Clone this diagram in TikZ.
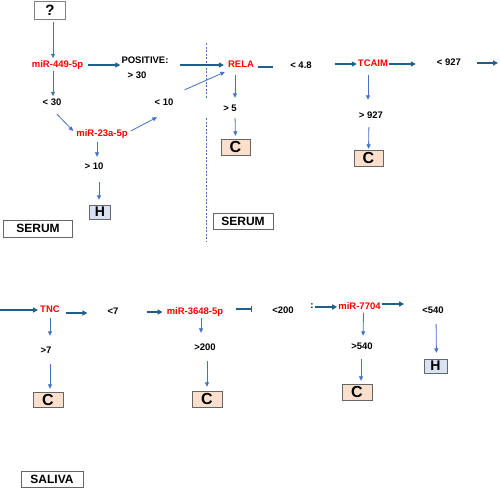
\documentclass[tikz,border=0pt]{standalone}
\usepackage{fontspec}
\setmainfont{Liberation Sans}
\usetikzlibrary{arrows.meta,positioning}
\definecolor{arrblue}{HTML}{4472C4}
\definecolor{arrteal}{HTML}{1F5F8B}
\definecolor{boxpeach}{HTML}{FAE0CC}
\definecolor{boxblue}{HTML}{D9E2F3}
\tikzset{
  lbl/.style={font=\bfseries\fontsize{9.5}{11}\selectfont, inner sep=1pt, text height=7pt, text depth=2pt},
  mir/.style={lbl, text=red},
  res/.style={draw=gray!80!black, font=\bfseries\fontsize{16}{18}\selectfont, inner sep=0pt, minimum width=29pt, minimum height=16pt},
  tissue/.style={draw=gray!80!black, font=\bfseries\fontsize{12}{14}\selectfont, inner sep=0pt, minimum height=16pt},
  bl/.style={draw=arrblue, line width=0.8pt, -{Triangle[length=4.5pt,width=4pt]}},
  tl/.style={draw=arrteal, line width=1.4pt, -{Triangle[length=5pt,width=5pt]}},
  cut/.style={draw=arrblue, line width=0.6pt, dash pattern=on 2pt off 1.5pt}
}
\begin{document}
\begin{tikzpicture}[x=1pt, y=-1pt]
    \useasboundingbox (0,0) rectangle (500,488);
    \node[res, font=\bfseries\fontsize{15}{17}\selectfont, minimum width=31pt, minimum height=18pt, draw=gray] (Q) at (50,10) {?};
    \node[mir] (M449) at (57.5,65) {miR-449-5p};
    \node[lbl] (POS) at (145,61) {POSITIVE:};
    \node[lbl] (G30) at (137,76) {> 30};
    \node[lbl] (L30) at (52,103) {< 30};
    \node[mir] (M23A) at (102,134) {miR-23a-5p};
    \node[lbl] (L10) at (164,103) {< 10};
    \node[lbl] (G10) at (94,167) {> 10};
    \node[res, fill=boxblue, minimum width=21pt, minimum height=14pt, font=\bfseries\fontsize{14}{16}\selectfont] (H1) at (100,212) {H};
    \node[tissue, minimum width=69pt, minimum height=17pt] (SER1) at (38,228.5) {SERUM};
    \node[mir] (RELA) at (241,65) {RELA};
    \node[lbl] (L48) at (301,66) {< 4.8};
    \node[mir] (TCAIM) at (373,64) {TCAIM};
    \node[lbl] (L927) at (449,63) {< 927};
    \node[lbl] (G5) at (230,109) {> 5};
    \node[res, fill=boxpeach] (C1) at (235.5,147) {C};
    \node[lbl] (G927) at (371,116) {> 927};
    \node[res, fill=boxpeach] (C2) at (368.5,158) {C};
    \node[tissue, minimum width=60pt] (SER2) at (243,221) {SERUM};
    \coordinate (D1) at (206,43);
    \coordinate (D2) at (206,98);
    \coordinate (D3) at (206,118);
    \coordinate (D4) at (206,241);
    \coordinate (OUT) at (498,63);
    \coordinate (IN) at (0,310);
    \node[mir] (TNC) at (50,310) {TNC};
    \node[lbl] (L7) at (113,312) {<7};
    \node[mir] (M3648) at (195,312) {miR-3648-5p};
    \node[lbl] (G7) at (46,351) {>7};
    \node[res, fill=boxpeach, minimum width=30pt, minimum height=15pt] (C3) at (48,400) {C};
    \node[lbl] (G200) at (205,348) {>200};
    \node[res, fill=boxpeach, minimum width=30pt] (C4) at (207,399) {C};
    \node[lbl] (L200) at (283,311) {<200};
    \node[lbl] (COL) at (312,306) {:};
    \node[mir] (M7704) at (359.5,307) {miR-7704};
    \node[lbl] (L540) at (433,311) {<540};
    \node[lbl] (G540) at (362,347) {>540};
    \node[res, fill=boxpeach, minimum width=30pt] (C5) at (357,392) {C};
    \node[res, fill=boxblue, minimum width=23pt, minimum height=14pt, font=\bfseries\fontsize{14}{16}\selectfont] (H2) at (435.5,366) {H};
    \node[tissue, minimum width=62pt] (SAL) at (52,479) {SALIVA};
    \draw[cut] (D1) -- (D2);
    \draw[cut] (D3) -- (D4);
    \draw[bl, shorten <=3pt, shorten >=1pt] ([xshift=3pt]Q.south) -- ([xshift=-4.5pt]M449.north);
    \draw[tl, shorten <=3.5pt, shorten >=0pt] (M449.east) -- (M449.east -| POS.west);
    \draw[tl, shorten <=10pt, shorten >=3pt] (POS.east |- RELA.west) -- (RELA.west);
    \draw[bl, shorten <=0pt, shorten >=1pt] ([xshift=-4.5pt]M449.south) -- ([xshift=1pt]L30.north);
    \draw[bl] ([xshift=5pt,yshift=-5.5pt]L30.south) -- ([xshift=-2pt,yshift=3pt]M23A.west);
    \draw[bl] ([xshift=2pt,yshift=3pt]M23A.east) -- ([xshift=-7pt,yshift=-8.5pt]L10.south);
    \draw[bl] ([xshift=10pt,yshift=7.5pt]L10.north east) -- ([xshift=-2pt,yshift=-7pt]RELA.west);
    \draw[bl, shorten <=2.5pt, shorten >=4.5pt] ([xshift=-5pt]M23A.south) -- ([xshift=3pt]G10.north);
    \draw[bl, shorten <=9.5pt, shorten >=5pt] ([xshift=5pt]G10.south) -- ([xshift=-1pt]H1.north);
    \draw[arrteal, line width=1.4pt, shorten <=3pt, shorten >=16pt] ([yshift=-2pt]RELA.east) -- ([yshift=-2pt]RELA.east -| L48.west);
    \draw[tl, shorten <=22pt, shorten >=0pt] ([yshift=2pt]L48.east) -- (TCAIM.west);
    \draw[tl, shorten <=0pt, shorten >=20pt] (TCAIM.east) -- (TCAIM.east -| L927.west);
    \draw[tl, shorten <=15pt] (L927.east) -- (OUT);
    \draw[bl, shorten <=4.5pt, shorten >=5.5pt] ([xshift=-6pt]RELA.south) -- ([xshift=5pt]G5.north);
    \draw[bl, shorten <=3.5pt, shorten >=3pt] ([xshift=5pt]G5.south) -- (C1.north);
    \draw[bl, shorten <=5.5pt, shorten >=10.5pt] ([xshift=-5pt]TCAIM.south) -- ([xshift=-3pt]G927.north);
    \draw[bl, shorten <=5.5pt, shorten >=1pt] ([xshift=-2pt]G927.south) -- (C2.north);
    \draw[tl, shorten >=1pt] (IN) -- (TNC.west);
    \draw[tl, shorten <=5pt, shorten >=19pt] ([yshift=-3pt]TNC.east) -- ([yshift=-3pt]TNC.east -| L7.west);
    \draw[tl, shorten <=27pt, shorten >=3pt] (L7.east) -- (M3648.west);
    \draw[arrteal, line width=1.4pt, -{Bar[width=6pt,line width=0.8pt]}, shorten <=12pt, shorten >=19pt] ([yshift=3pt]M3648.east) -- ([yshift=3pt]M3648.east -| L200.west);
    \draw[tl, shorten <=0pt, shorten >=0pt] ([yshift=-1pt]COL.east) -- ([yshift=-1pt]COL.east -| M7704.west);
    \draw[tl, shorten <=0pt, shorten >=17pt] ([yshift=3pt]M7704.east) -- ([yshift=3pt]M7704.east -| L540.west);
    \draw[bl, shorten <=2.5pt, shorten >=9.5pt] (TNC.south) -- ([xshift=4pt]G7.north);
    \draw[bl, shorten <=7.5pt, shorten >=3.5pt] ([xshift=4pt]G7.south) -- ([xshift=2pt]C3.north);
    \draw[bl, shorten >=9.5pt] ([xshift=6pt]M3648.south) -- ([xshift=-4pt]G200.north);
    \draw[bl, shorten <=7.5pt, shorten >=4pt] ([xshift=2pt]G200.south) -- (C4.north);
    \draw[bl, shorten >=5.5pt] ([xshift=4pt]M7704.south) -- ([xshift=1pt]G540.north);
    \draw[bl, shorten <=6.5pt, shorten >=3pt] ([xshift=-1pt]G540.south) -- ([xshift=4pt]C5.north);
    \draw[bl, shorten <=7.5pt, shorten >=6pt] ([xshift=3pt]L540.south) -- ([xshift=1pt]H2.north);
\end{tikzpicture}
\end{document}
